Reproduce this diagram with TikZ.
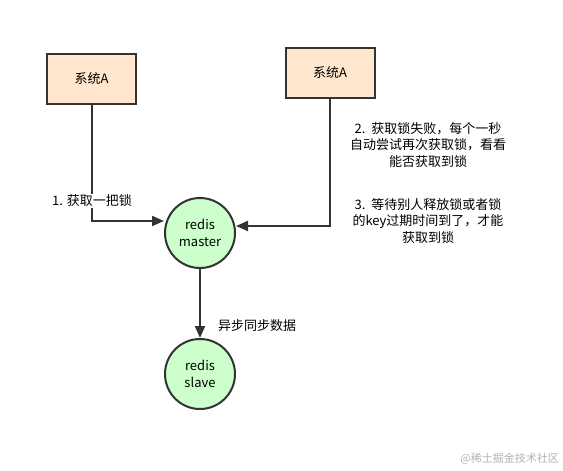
\documentclass[tikz,border=0pt]{standalone}
\usepackage{fontspec}
\setmainfont{Noto Sans CJK SC}
\usetikzlibrary{arrows.meta}
\definecolor{boxfill}{HTML}{FFE6CC}
\definecolor{circfill}{HTML}{CCFFCC}
\definecolor{linec}{HTML}{333333}
\begin{document}
\begin{tikzpicture}[x=1pt,y=-1pt,
  sysbox/.style={draw=linec,line width=2pt,fill=boxfill,minimum width=89pt,minimum height=50pt,inner sep=0pt,font=\fontsize{13}{15}\selectfont},
  redis/.style={circle,draw=linec,line width=2pt,fill=circfill,minimum size=70pt,inner sep=0pt,align=center,font=\fontsize{13}{17}\selectfont},
  conn/.style={draw=linec,line width=2pt,-{Triangle[length=12pt,width=10pt]}},
  lbl/.style={align=center,font=\fontsize{13}{16.5}\selectfont,inner sep=1pt}]
\useasboundingbox (0,0) rectangle (563,471);
\node[sysbox] (a1) at (91.5,79) {系统A};
\node[sysbox] (a2) at (330,72.5) {系统A};
\node[redis] (m) at (200,233) {redis\\master};
\node[redis] (s) at (200,374) {redis\\slave};
\coordinate (c1) at (a1.south |- 0,221);
\coordinate (c2) at (a2.south |- 0,226);
\draw[conn] (a1.south) -- (c1) -- (c1 -| m.west);
\draw[conn] (a2.south) -- (c2) -- (c2 -| m.east);
\draw[conn] (m.south) -- (s.north);
\node[lbl,fill=white] (l1) at (92,201) {1. 获取一把锁};
\node[lbl] (l2) at (428,145) {2.\ \ 获取锁失败，每个一秒\\自动尝试再次获取锁，看看\\能否获取到锁};
\node[lbl] (l3) at (428,221) {3.\ \ 等待别人释放锁或者锁\\的key过期时间到了，才能\\获取到锁};
\node[lbl,anchor=west] (l4) at (217,326) {异步同步数据};
\node[font=\fontsize{11}{13}\selectfont,text=black!30,anchor=east,inner sep=0pt] (wm) at (559,459) {@稀土掘金技术社区};
\end{tikzpicture}
\end{document}
